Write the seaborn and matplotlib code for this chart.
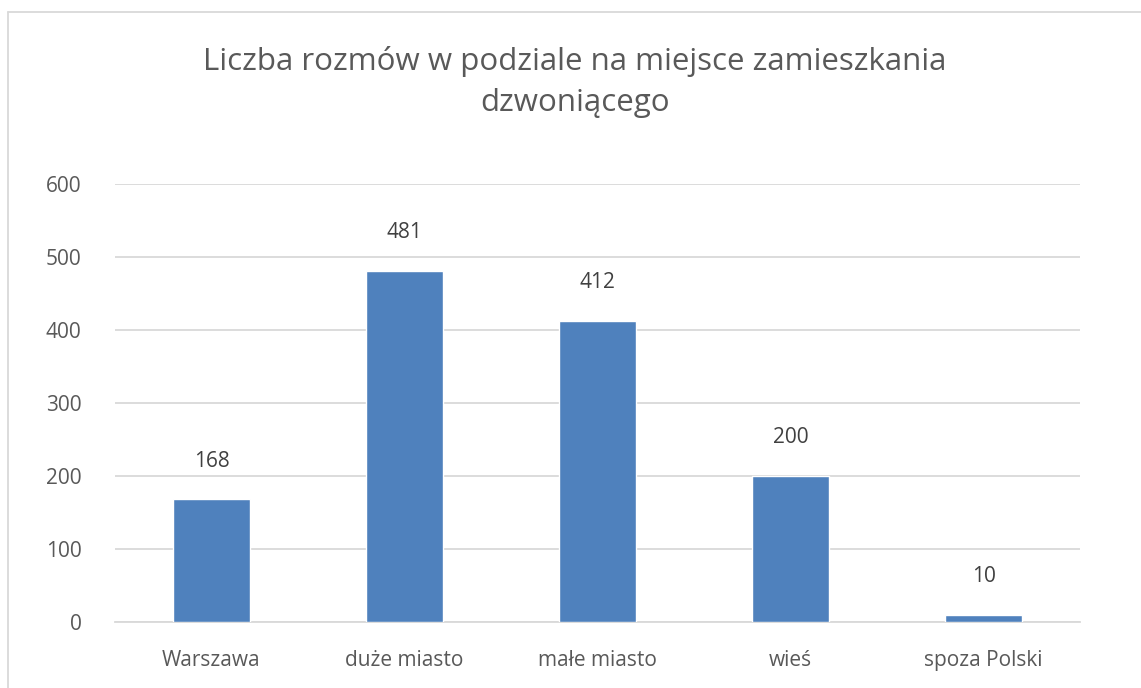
import pandas as pd
import matplotlib.pyplot as plt
import seaborn as sns
from matplotlib.lines import Line2D

categories = ["Warszawa", "duże miasto", "małe miasto", "wieś", "spoza Polski"]
counts = [168, 481, 412, 200, 10]
y_ticks = [0, 100, 200, 300, 400, 500, 600]

title = "Liczba rozmów w podziale na miejsce zamieszkania\ndzwoniącego"

df = pd.DataFrame({"miejsce": categories, "liczba": counts})

sns.set_theme(style="white")
plt.rcParams['font.family'] = ['Open Sans', 'DejaVu Sans']

fig = plt.figure(figsize=(11.41, 6.88), dpi=100)
ax = fig.add_axes([115 / 1141, 1 - 622 / 688, (1080 - 115) / 1141, (622 - 184) / 688])

sns.barplot(data=df, x="miejsce", y="liczba", color="#4F81BD", saturation=1,
            width=0.4, ax=ax, zorder=3)

ax.set_ylim(0, 600)
ax.set_xlim(-0.5, len(categories) - 0.5)
ax.set_yticks(y_ticks)
ax.yaxis.grid(True, color="#D9D9D9", linewidth=1.3, zorder=0)
ax.set_axisbelow(True)
for s in ["top", "right", "left"]:
    ax.spines[s].set_visible(False)
ax.spines["bottom"].set_color("#D9D9D9")
ax.spines["bottom"].set_linewidth(1.3)
ax.tick_params(axis="both", length=0, labelsize=15, labelcolor="#595959")
ax.tick_params(axis="y", pad=24)
ax.tick_params(axis="x", pad=20)
ax.set_xlabel("")
ax.set_ylabel("")

# value labels
for container in ax.containers:
    ax.bar_label(container, labels=[str(v) for v in counts], padding=20,
                 fontsize=15, color="#404040")

fig.text(0.504, 1 - 82 / 688, title, ha="center", va="center", fontsize=22.5,
         color="#595959", linespacing=1.45)

# chart area border (left and top only visible)
fig.add_artist(Line2D([8 / 1141, 8 / 1141], [0, 1 - 12 / 688], transform=fig.transFigure,
                      color="#D9D9D9", linewidth=1.3))
fig.add_artist(Line2D([8 / 1141, 1], [1 - 12 / 688, 1 - 12 / 688], transform=fig.transFigure,
                      color="#D9D9D9", linewidth=1.3))

fig.savefig("out.png", dpi=100, facecolor="white")
